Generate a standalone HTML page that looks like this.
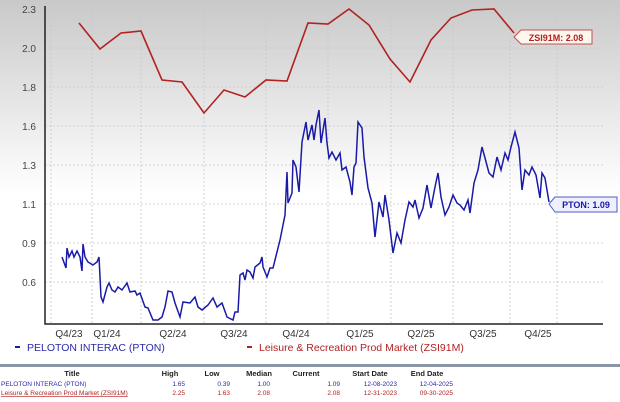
<!DOCTYPE html>
<html><head><style>
body{margin:0;width:620px;height:402px;overflow:hidden;background:#fff;font-family:"Liberation Sans",sans-serif}
</style></head><body>
<svg width="620" height="402" xmlns="http://www.w3.org/2000/svg" style="position:absolute;left:0;top:0">
<defs><linearGradient id="g" x1="0" y1="0" x2="0" y2="1"><stop offset="0" stop-color="#c9c9c9"/><stop offset="0.45" stop-color="#f2f2f2"/><stop offset="0.6" stop-color="#fff"/></linearGradient></defs>
<rect x="0" y="0" width="620" height="324" fill="url(#g)"/>
<g stroke="#c8c8c8" stroke-dasharray="2,2" stroke-width="0.8">
<line x1="45" x2="603" y1="9" y2="9"/><line x1="45" x2="603" y1="48" y2="48"/><line x1="45" x2="603" y1="87" y2="87"/><line x1="45" x2="603" y1="126" y2="126"/><line x1="45" x2="603" y1="165" y2="165"/><line x1="45" x2="603" y1="204" y2="204"/><line x1="45" x2="603" y1="243" y2="243"/><line x1="45" x2="603" y1="282" y2="282"/>
<line x1="51" x2="51" y1="5" y2="324"/><line x1="92" x2="92" y1="5" y2="324"/><line x1="141" x2="141" y1="5" y2="324"/><line x1="204" x2="204" y1="5" y2="324"/><line x1="266" x2="266" y1="5" y2="324"/><line x1="328" x2="328" y1="5" y2="324"/><line x1="391" x2="391" y1="5" y2="324"/><line x1="453" x2="453" y1="5" y2="324"/><line x1="510" x2="510" y1="5" y2="324"/><line x1="557" x2="557" y1="5" y2="324"/>
</g>
<path d="M45 6V324H603" fill="none" stroke="#222" stroke-width="1.5"/>
<g font-size="10" fill="#444" text-anchor="end">
<text x="36" y="13">2.3</text><text x="36" y="52">2.0</text><text x="36" y="91">1.8</text><text x="36" y="130">1.6</text><text x="36" y="169">1.3</text><text x="36" y="208">1.1</text><text x="36" y="247">0.9</text><text x="36" y="286">0.6</text>
</g>
<g font-size="10" fill="#333" text-anchor="middle">
<text x="69" y="337">Q4/23</text><text x="107" y="337">Q1/24</text><text x="173" y="337">Q2/24</text><text x="234" y="337">Q3/24</text><text x="296" y="337">Q4/24</text><text x="360" y="337">Q1/25</text><text x="421" y="337">Q2/25</text><text x="483" y="337">Q3/25</text><text x="538" y="337">Q4/25</text>
</g>
<polyline fill="none" stroke="#b22222" stroke-width="1.6" points="79,23 100,49 121,33 141,31 162,80 182,82 204,113 224,90 245,97 266,80 287,81 308,23 328,24 349,9 369,25 390,59 410,82 431,40 451,18 472,10 494,9 514,33"/>
<path d="M514,37 L521,30 H592 V44 H521 Z" fill="#fff6ee" stroke="#c0504d"/>
<text x="556" y="41" font-size="9" font-weight="bold" fill="#b22222" text-anchor="middle">ZSI91M: 2.08</text>
<polyline fill="none" stroke="#1a1aa8" stroke-width="1.5" points="62,257 66,268 67,248 69,257 72,251 74,257 77,251 80,257 82,271 83,244 85,257 88,262 93,265 97,262 99,257 101,297 103,302 107,287 109,283 112,290 115,292 118,287 122,290 127,283 130,292 135,291 137,295 140,293 145,307 148,308 153,320 158,320 162,317 165,307 168,291 172,292 175,303 180,317 183,302 190,303 195,297 198,307 202,310 208,305 213,298 217,307 222,303 227,317 233,320 235,312 238,312 240,275 243,273 245,280 247,270 250,272 253,278 255,267 260,263 262,257 263,267 267,277 270,268 273,268 277,252 280,240 282,230 285,215 287,172 288,203 292,193 293,160 296,167 299,192 302,142 306,122 308,140 312,125 314,140 316,125 319,110 321,143 325,118 327,143 329,158 332,152 336,160 340,153 342,170 346,167 350,182 352,195 354,167 356,163 358,122 362,128 364,157 368,188 372,203 375,237 379,202 383,217 385,195 389,220 393,253 397,233 401,243 405,220 409,202 413,207 415,200 419,218 423,208 427,185 431,208 435,187 438,173 441,197 445,215 449,207 453,195 457,203 460,205 464,210 468,200 470,213 474,183 478,170 482,147 485,158 489,173 493,177 497,157 501,170 505,153 508,160 511,147 515,132 519,148 522,190 525,170 529,175 532,167 536,175 540,198 542,173 545,178 549,202"/>
<path d="M549,204 L555,197 H617 V212 H555 Z" fill="#eef0ff" stroke="#4a5fc1"/>
<text x="586" y="208" font-size="9" font-weight="bold" fill="#1a1aa8" text-anchor="middle">PTON: 1.09</text>
<rect x="15" y="346" width="5" height="2" fill="#1a1aa8"/>
<text x="27" y="351" font-size="10.5" fill="#2a2aa8">PELOTON INTERAC (PTON)</text>
<rect x="247" y="346" width="5" height="2" fill="#b22222"/>
<text x="259" y="351" font-size="10.5" fill="#b22222">Leisure &amp; Recreation Prod Market (ZSI91M)</text>
<rect x="0" y="364" width="620" height="3" fill="#8a96a8"/>
<g font-size="7.5" font-weight="bold" fill="#222" text-anchor="middle">
<text x="72" y="376">Title</text><text x="170" y="376">High</text><text x="212" y="376">Low</text><text x="259" y="376">Median</text><text x="306" y="376">Current</text><text x="370" y="376">Start Date</text><text x="427" y="376">End Date</text>
</g>
<g font-size="6.5" fill="#2a2aa8">
<text x="1" y="386">PELOTON INTERAC (PTON)</text>
<g text-anchor="end"><text x="185" y="386">1.65</text><text x="230" y="386">0.39</text><text x="270" y="386">1.00</text><text x="340" y="386">1.09</text><text x="397" y="386">12-08-2023</text><text x="453" y="386">12-04-2025</text></g>
</g>
<g font-size="6.5" fill="#b22222">
<text x="1" y="395" text-decoration="underline">Leisure &amp; Recreation Prod Market (ZSI91M)</text>
<g text-anchor="end"><text x="185" y="395">2.25</text><text x="230" y="395">1.63</text><text x="270" y="395">2.08</text><text x="340" y="395">2.08</text><text x="397" y="395">12-31-2023</text><text x="453" y="395">09-30-2025</text></g>
</g>
</svg>
</body></html>
